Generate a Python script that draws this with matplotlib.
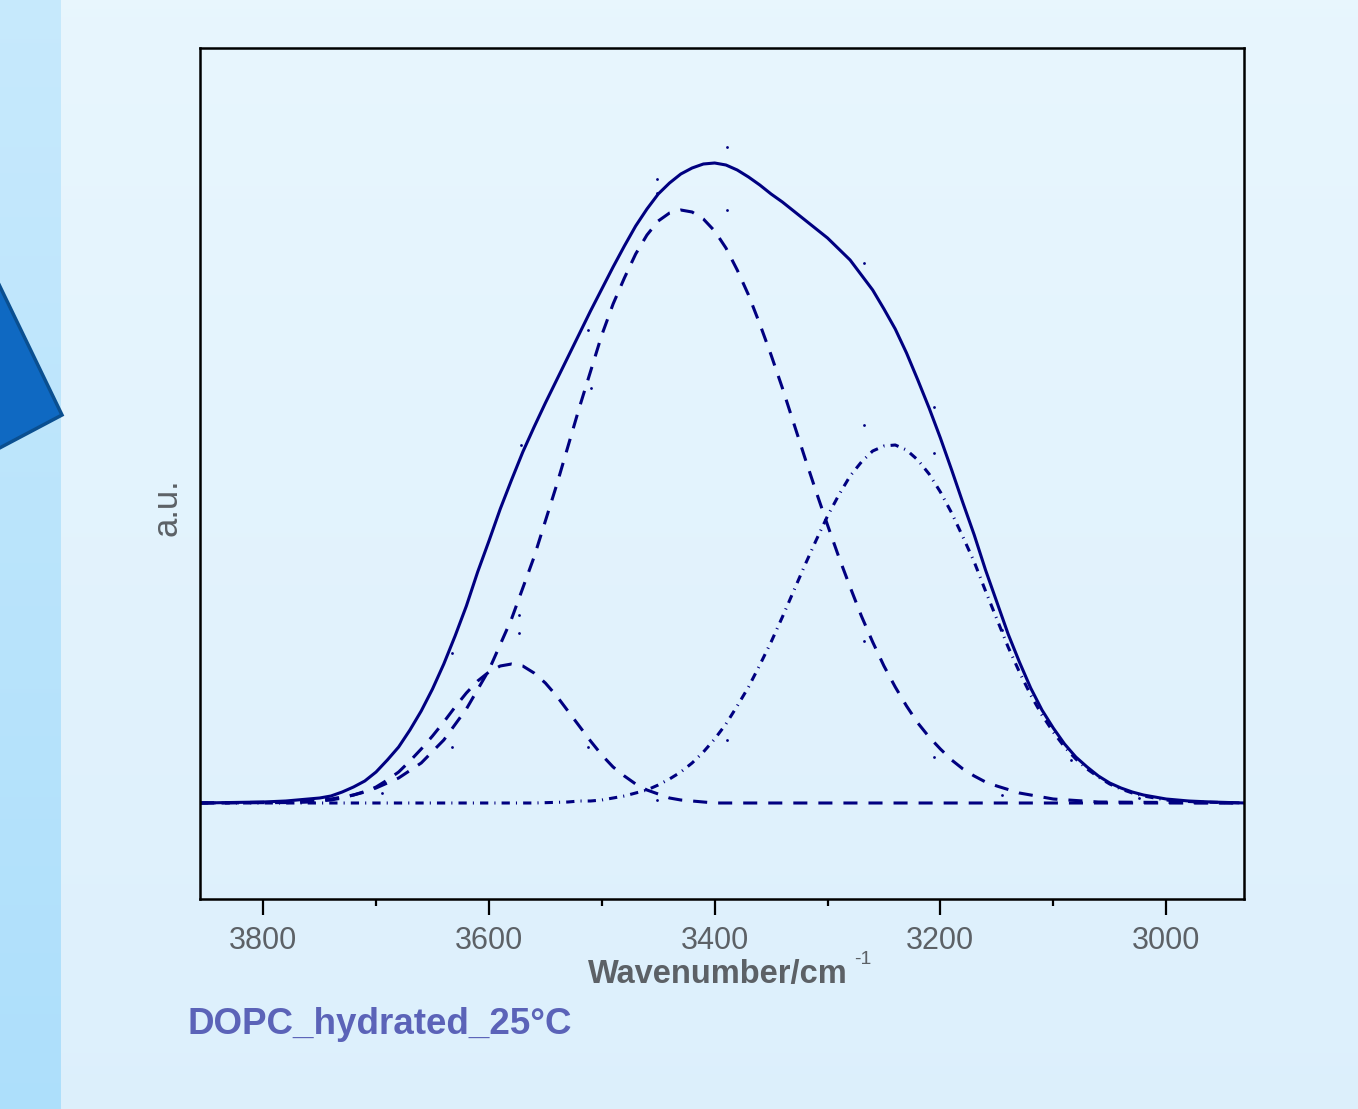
import numpy as np
import matplotlib
matplotlib.use('Agg')
import matplotlib.pyplot as plt
import matplotlib.patches as patches

plt.rcParams['font.family'] = ['Liberation Sans', 'DejaVu Sans']

# Fitted envelope (solid)
main_x = [3856, 3800, 3780, 3770, 3760, 3750, 3740, 3730, 3720, 3710, 3700, 3690,
          3680, 3670, 3660, 3650, 3640, 3630, 3620, 3610, 3600, 3590, 3580, 3570,
          3560, 3550, 3540, 3530, 3520, 3510, 3500, 3490, 3480, 3470, 3460, 3450,
          3440, 3430, 3420, 3410, 3400, 3390, 3380, 3370, 3360, 3350, 3340, 3330,
          3320, 3310, 3300, 3290, 3280, 3270, 3260, 3250, 3240, 3230, 3220, 3210,
          3200, 3190, 3180, 3170, 3160, 3150, 3140, 3130, 3120, 3110, 3100, 3090,
          3080, 3070, 3060, 3050, 3040, 3030, 3020, 3010, 3000, 2990, 2980, 2970,
          2960, 2930]
main_y = [0.0, 0.01, 0.02, 0.03, 0.04, 0.05, 0.07, 0.11, 0.16, 0.22, 0.31, 0.43,
          0.56, 0.73, 0.92, 1.14, 1.39, 1.67, 1.97, 2.31, 2.62, 2.94, 3.23, 3.51,
          3.76, 4.00, 4.23, 4.46, 4.69, 4.92, 5.14, 5.36, 5.57, 5.77, 5.94, 6.09,
          6.20, 6.29, 6.35, 6.39, 6.40, 6.38, 6.33, 6.26, 6.18, 6.09, 6.01, 5.92,
          5.83, 5.74, 5.65, 5.54, 5.43, 5.28, 5.13, 4.94, 4.74, 4.50, 4.23, 3.95,
          3.65, 3.33, 3.00, 2.68, 2.33, 2.01, 1.69, 1.41, 1.15, 0.93, 0.75, 0.59,
          0.46, 0.36, 0.27, 0.20, 0.15, 0.11, 0.08, 0.06, 0.04, 0.03, 0.02, 0.015,
          0.01, 0.0]

# Main component (dashed, ~3428)
big_x = [3856, 3780, 3760, 3740, 3720, 3700, 3680, 3660, 3640, 3620, 3600, 3580,
         3560, 3540, 3520, 3500, 3490, 3480, 3470, 3460, 3450, 3440, 3430, 3420,
         3410, 3400, 3390, 3380, 3370, 3360, 3350, 3340, 3330, 3320, 3310, 3300,
         3290, 3280, 3270, 3260, 3250, 3240, 3230, 3220, 3210, 3200, 3190, 3180,
         3170, 3160, 3150, 3130, 3100, 3060, 2930]
big_y = [0.0, 0.01, 0.02, 0.04, 0.08, 0.15, 0.25, 0.40, 0.63, 0.94, 1.33, 1.84,
         2.46, 3.18, 3.95, 4.68, 4.99, 5.25, 5.49, 5.68, 5.82, 5.90, 5.93, 5.91,
         5.84, 5.72, 5.55, 5.33, 5.08, 4.79, 4.48, 4.15, 3.80, 3.45, 3.11, 2.78,
         2.46, 2.16, 1.87, 1.61, 1.37, 1.16, 0.97, 0.80, 0.66, 0.54, 0.43, 0.34,
         0.27, 0.21, 0.17, 0.10, 0.04, 0.01, 0.0]

# Small component (dashed, ~3580)
small_x = [3856, 3770, 3760, 3750, 3740, 3730, 3720, 3710, 3700, 3690, 3680, 3670,
           3660, 3650, 3640, 3630, 3620, 3610, 3600, 3590, 3580, 3570, 3560, 3550,
           3540, 3530, 3520, 3510, 3500, 3490, 3480, 3470, 3460, 3450, 3440, 3430,
           3420, 3410, 3400, 2930]
small_y = [0.0, 0.005, 0.01, 0.02, 0.03, 0.05, 0.08, 0.11, 0.16, 0.23, 0.31, 0.42,
           0.54, 0.67, 0.81, 0.96, 1.10, 1.22, 1.31, 1.37, 1.39, 1.37, 1.30, 1.20,
           1.07, 0.92, 0.77, 0.62, 0.48, 0.36, 0.27, 0.19, 0.13, 0.09, 0.05, 0.03,
           0.02, 0.01, 0.0, 0.0]

# Low-frequency component (dash-dot, ~3244)
dd_x = [3856, 3560, 3530, 3520, 3510, 3500, 3490, 3480, 3470, 3460, 3450, 3440,
        3430, 3420, 3410, 3400, 3390, 3380, 3370, 3360, 3350, 3340, 3330, 3320,
        3310, 3300, 3290, 3280, 3270, 3260, 3250, 3240, 3230, 3220, 3210, 3200,
        3190, 3180, 3170, 3160, 3150, 3140, 3130, 3120, 3110, 3100, 3090, 3080,
        3070, 3060, 3050, 3040, 3030, 3020, 3010, 3000, 2990, 2970, 2930]
dd_y = [0.0, 0.0, 0.01, 0.02, 0.02, 0.03, 0.05, 0.07, 0.10, 0.13, 0.18, 0.24,
        0.31, 0.40, 0.51, 0.64, 0.79, 0.97, 1.16, 1.38, 1.61, 1.86, 2.12, 2.38,
        2.63, 2.87, 3.08, 3.27, 3.41, 3.52, 3.57, 3.58, 3.53, 3.43, 3.29, 3.11,
        2.90, 2.66, 2.41, 2.12, 1.84, 1.56, 1.31, 1.08, 0.88, 0.71, 0.56, 0.44,
        0.34, 0.26, 0.19, 0.14, 0.10, 0.07, 0.05, 0.03, 0.02, 0.01, 0.0]

# Stray data dots
dot_x = [3695, 3695, 3633, 3633, 3573, 3573, 3572, 3512, 3510, 3512, 3451, 3451,
         3451, 3389, 3389, 3389, 3268, 3268, 3268, 3206, 3206, 3206, 3145, 3145,
         3084, 3024]
dot_y = [0.20, 0.10, 1.50, 0.56, 1.88, 1.70, 3.58, 4.73, 4.15, 0.56, 6.24, 6.10,
         0.03, 6.56, 5.93, 0.63, 5.40, 3.78, 1.62, 3.96, 3.50, 0.46, 1.73, 0.08,
         0.43, 0.05]

major_ticks = [3800, 3600, 3400, 3200, 3000]
minor_ticks = [3700, 3500, 3300, 3100]

W, H = 1358, 1109
fig = plt.figure(figsize=(W / 100, H / 100), dpi=100)

# background gradient
bg = fig.add_axes([0, 0, 1, 1], zorder=-10)
grad = np.linspace(0, 1, 256).reshape(-1, 1)
top = np.array([0.91, 0.965, 0.996])
bot = np.array([0.865, 0.94, 0.988])
img = top[None, None, :] * (1 - grad[:, :, None]) + bot[None, None, :] * grad[:, :, None]
bg.imshow(np.repeat(img, 4, axis=1), aspect='auto', extent=[0, 1, 0, 1])
strip_top = np.array([0.78, 0.915, 0.99])
strip_bot = np.array([0.68, 0.875, 0.985])
simg = strip_top[None, None, :] * (1 - grad[:, :, None]) + strip_bot[None, None, :] * grad[:, :, None]
bg.imshow(np.repeat(simg, 4, axis=1), aspect='auto', extent=[0, 61 / W, 0, 1])
bg.set_xlim(0, 1)
bg.set_ylim(0, 1)
bg.axis('off')

# blue shape on the left edge
poly = patches.Polygon([(-8 / W, 1 - 270 / H), (62 / W, 1 - 415 / H), (-8 / W, 1 - 452 / H)],
                       closed=True, facecolor='#0f69c2', edgecolor='#0a4f90', linewidth=2.5,
                       transform=fig.transFigure, zorder=-5)
fig.patches.append(poly)

ax = fig.add_axes([200 / W, 1 - 899 / H, 1044 / W, 851 / H])
ax.set_facecolor('none')

navy = '#000080'
ax.plot(dd_x, dd_y, color=navy, lw=2.2, linestyle=(0, (2.7, 2.0, 0.35, 2.0)))
ax.plot(small_x, small_y, color=navy, lw=2.2, linestyle=(0, (4.6, 3.6)))
ax.plot(big_x, big_y, color=navy, lw=2.2, linestyle=(0, (4.6, 3.6)))
ax.plot(main_x, main_y, color=navy, lw=2.2, solid_joinstyle='round')
ax.plot(dot_x, dot_y, linestyle='none', marker='o', ms=2, color=navy, mec='none')

ax.set_xlim(3856, 2931)
ax.set_ylim(-0.96, 7.55)

for s in ax.spines.values():
    s.set_linewidth(1.8)
    s.set_color('black')

ax.set_xticks(major_ticks)
ax.set_xticks(minor_ticks, minor=True)
ax.set_yticks([])
ax.tick_params(axis='x', which='major', direction='out', length=11.5, width=1.6,
               labelsize=22, labelcolor='#5c6166', pad=8)
ax.tick_params(axis='x', which='minor', direction='out', length=5, width=1.6)

fig.text(718 / W, 1 - 975 / H, 'Wavenumber/cm', fontsize=23.5, fontweight='bold',
         color='#5c6166', ha='center', va='center')
fig.text(854 / W, 1 - 960 / H, '-1', fontsize=14, color='#5c6166', ha='left', va='center')
fig.text(167 / W, 1 - 507 / H, 'a.u.', fontsize=25, color='#5c6166', rotation=90,
         ha='center', va='center')
fig.text(187 / W, 1 - 1025 / H, 'DOPC_hydrated_25°C', fontsize=26.5, fontweight='bold',
         color='#5b63b8', ha='left', va='center')

fig.savefig('out.png', dpi=100)
